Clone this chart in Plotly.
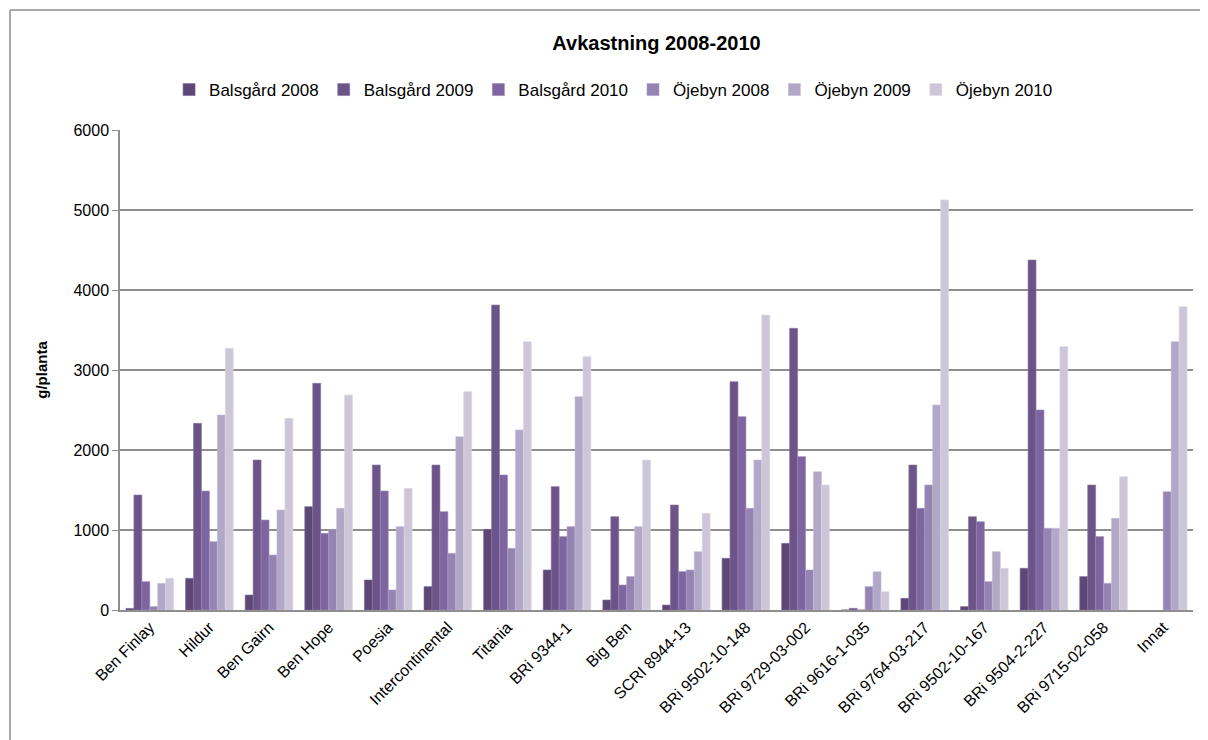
import plotly.graph_objects as go

categories = ["Ben Finlay", "Hildur", "Ben Gairn", "Ben Hope", "Poesia", "Intercontinental",
              "Titania", "BRi 9344-1", "Big Ben", "SCRI 8944-13", "BRi 9502-10-148",
              "BRi 9729-03-002", "BRi 9616-1-035", "BRi 9764-03-217", "BRi 9502-10-167",
              "BRi 9504-2-227", "BRi 9715-02-058", "Innat"]

balsgard_2008 = [20, 396, 187, 1292, 375, 292, 1008, 500, 125, 62, 646, 833, 0, 146, 42, 521, 417, None]
balsgard_2009 = [1437, 2333, 1875, 2833, 1812, 1812, 3812, 1542, 1167, 1312, 2854, 3521, 21, 1812, 1167, 4375, 1562, None]
balsgard_2010 = [354, 1487, 1125, 958, 1487, 1229, 1687, 917, 312, 479, 2417, 1917, 0, 1271, 1104, 2500, 917, None]
ojebyn_2008 = [42, 854, 687, 1008, 250, 708, 771, 1042, 417, 500, 1271, 500, 292, 1562, 354, 1021, 333, 1479]
ojebyn_2009 = [333, 2437, 1250, 1271, 1042, 2167, 2250, 2667, 1042, 729, 1875, 1729, 479, 2562, 729, 1021, 1146, 3354]
ojebyn_2010 = [396, 3271, 2396, 2687, 1521, 2729, 3354, 3167, 1875, 1208, 3687, 1562, 229, 5125, 521, 3292, 1667, 3792]

series_names = ["Balsgård 2008", "Balsgård 2009", "Balsgård 2010", "Öjebyn 2008", "Öjebyn 2009", "Öjebyn 2010"]
series_values = [balsgard_2008, balsgard_2009, balsgard_2010, ojebyn_2008, ojebyn_2009, ojebyn_2010]
colors = ["#5d4777", "#6c5489", "#7e64a0", "#9584b2", "#b1a7c6", "#cdc6d9"]
border_colors = ["#7a6892", "#8a76a2", "#9a86b6", "#ada0c6", "#c6bed8", "#ddd8e6"]

FONT = "Liberation Sans, Arial"

W, H = 1200, 732
ML, MT, MR, MB = 112, 122, 15, 130
PW = W - ML - MR
PH = H - MT - MB

fig = go.Figure()
for name, vals, c, bc in zip(series_names, series_values, colors, border_colors):
    fig.add_trace(go.Bar(name=name, x=categories, y=vals, marker=dict(color=c, line=dict(color=bc, width=0.6))))

fig.update_layout(
    width=W, height=H,
    margin=dict(l=ML, r=MR, t=MT, b=MB),
    paper_bgcolor="white", plot_bgcolor="white",
    barmode="group", bargap=0.2, bargroupgap=0,
    font=dict(family=FONT, size=14, color="black"),
    title=dict(text="<b>Avkastning 2008-2010</b>", x=0.5, xref="paper", xanchor="center",
               y=1 - 35 / H, yref="container", yanchor="middle", font=dict(size=20, family=FONT)),
    legend=dict(orientation="h", x=0.46, xanchor="center", y=1 + 40 / PH, yanchor="middle",
                font=dict(size=17, family=FONT), itemwidth=30, traceorder="normal",
                bgcolor="rgba(0,0,0,0)"),
    showlegend=True,
)
fig.update_yaxes(range=[0, 6000], dtick=1000, showgrid=True, gridcolor="#8e8e8e", gridwidth=1.5,
                 showline=True, linecolor="#8e8e8e", linewidth=1.5, ticks="outside", ticklen=6,
                 tickcolor="#8e8e8e", tickfont=dict(size=16), zeroline=False,
                 title=dict(text="<b>g/planta</b>", font=dict(size=15), standoff=22))
fig.update_xaxes(showline=True, linecolor="#8e8e8e", linewidth=1.5, tickangle=-45,
                 tickfont=dict(size=16), ticks="")

# outer chart frame (top and left edges visible in the window)
fx0 = (2 - ML) / PW
fy1 = 1 + (MT - 2) / PH
fig.add_shape(type="line", xref="paper", yref="paper", x0=fx0, x1=(W - ML) / PW, y0=fy1, y1=fy1,
              line=dict(color="#8e8e8e", width=1.5), layer="below")
fig.add_shape(type="line", xref="paper", yref="paper", x0=fx0, x1=fx0, y0=fy1, y1=-(H - MT - PH) / PH,
              line=dict(color="#8e8e8e", width=1.5), layer="below")

fig.write_html("out.html")
